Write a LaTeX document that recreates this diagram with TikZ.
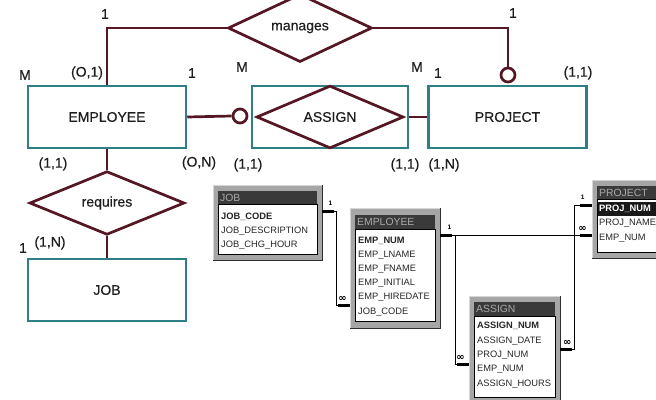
\documentclass[tikz,border=0pt]{standalone}
\usepackage{fontspec}
\setmainfont{Liberation Sans}
\newfontfamily\djv{DejaVu Sans}
\newfontfamily\erfam[FakeBold=0.4]{Liberation Sans}
\usetikzlibrary{shapes.geometric,calc}
\definecolor{entteal}{HTML}{2F7F87}
\definecolor{relmaroon}{HTML}{561725}
\definecolor{ertext}{HTML}{1E1E1E}
\definecolor{frgray}{HTML}{A6A6A6}
\definecolor{frlight}{HTML}{D6D6D6}
\definecolor{frdark}{HTML}{2E2E2E}
\definecolor{titlebg}{HTML}{3A3A3A}
\definecolor{titlefg}{HTML}{A9A9A9}
\newcommand\erfont{\erfam\fontsize{14}{14}\selectfont}
\newcommand\fieldfont{\fontsize{9.3}{10}\selectfont}
\newcommand\ttlfont{\fontsize{10.4}{11}\selectfont}
\newcommand\relfont{\fontsize{6.5}{7}\selectfont\bfseries}
\newcommand\inffont{\djv\fontsize{10}{10}\selectfont\bfseries}
\tikzset{
  entity/.style={draw=entteal, line width=2.5pt, minimum width=158pt, minimum height=62pt, inner sep=0pt, font=\erfont, text=ertext},
  reln/.style={diamond, draw=relmaroon, line width=2.7pt, inner sep=0pt, font=\erfont, text=ertext},
  conn/.style={draw=relmaroon, line width=2.7pt},
  optc/.style={circle, draw=relmaroon, line width=2.7pt, minimum size=14pt, inner sep=0pt},
  card/.style={font=\erfont, text=ertext, inner sep=0pt},
  tabframe/.style={fill=frgray, draw=frlight, line width=0.8pt, inner sep=0pt},
  tshadow/.style={draw=frdark, line width=1.3pt},
  ttitle/.style={fill=titlebg},
  tbody/.style={fill=white, draw=black, line width=0.8pt},
  ttitletext/.style={font=\ttlfont, text=titlefg, anchor=west, inner sep=0pt},
  tfield/.style={font=\fieldfont, text=black!85, anchor=west, inner sep=0pt},
  tkey/.style={tfield, font=\fieldfont\bfseries},
  tline/.style={draw=black, line width=0.8pt},
  tend/.style={draw=black, line width=2.6pt},
  tcard/.style={font=\relfont, text=black, inner sep=0pt},
  tinf/.style={font=\inffont, text=black, inner sep=0pt},
}
\begin{document}
\begin{tikzpicture}[x=1pt,y=-1pt]
\useasboundingbox (0,0) rectangle (656,399);
\clip (0,0) rectangle (656,399);
\fill[white] (0,0) rectangle (656,399);

% ---------------- ER diagram ----------------
\node[entity] (emp) at (107,117) {EMPLOYEE};
\node[entity] (proj) at (507.5,117) {PROJECT};
\node[entity, minimum width=156pt] (asgbox) at (330,117) {};
\node[reln, minimum width=147pt, minimum height=57pt] (asgd) at (330,117) {ASSIGN};
\node[entity] (job) at (107,290) {JOB};
\node[reln, minimum width=144pt, minimum height=56pt] (mng) at (300,28) {manages};
\node[reln, minimum width=155pt, minimum height=56pt] (req) at (107,203) {requires};
\node[optc] (o1) at (240,116) {};
\node[optc] (o2) at (508,75) {};

\draw[conn] (emp.north) |- (mng.west);
\draw[conn] (mng.east) -| (o2.north);
\draw[conn] (emp.east) -- (o1.west);
\draw[conn] (asgbox.east) -- (proj.west);
\draw[conn] (emp.south) -- (req.north);
\draw[conn] (req.south) -- (job.north);

\node[card] (l1) at (105,14) {1};
\node[card] (l2) at (513,13) {1};
\node[card] (l3) at (25,75) {M};
\node[card] (l4) at (87,73) {(O,1)};
\node[card] (l5) at (192,73) {1};
\node[card] (l6) at (242,67) {M};
\node[card] (l7) at (417,67) {M};
\node[card] (l8) at (438,73) {1};
\node[card] (l9) at (578,73) {(1,1)};
\node[card] (l10) at (53,164) {(1,1)};
\node[card] (l11) at (199,163) {(O,N)};
\node[card] (l12) at (248,165) {(1,1)};
\node[card] (l13) at (405,165) {(1,1)};
\node[card] (l14) at (444,165) {(1,N)};
\node[card] (l15) at (23,248) {1};
\node[card] (l16) at (50,243) {(1,N)};

% ---------------- relational tables ----------------
% JOB table
\node[tabframe, minimum width=109pt, minimum height=75pt] (tjob) at (267.5,222.5) {};
\draw[tshadow] (tjob.north east) -- (tjob.south east) -- (tjob.south west);
\fill[ttitle] (218,191) rectangle (317,204);
\draw[tbody] (218,204) rectangle (317,254);
\node[ttitletext] (tjobt) at (220,197.5) {JOB};
\node[tkey] (f11) at (221,217) {JOB\_CODE};
\node[tfield] (f12) at (221,231) {JOB\_DESCRIPTION};
\node[tfield] (f13) at (221,245) {JOB\_CHG\_HOUR};

% EMPLOYEE table
\node[tabframe, minimum width=90pt, minimum height=120pt] (temp) at (395,268) {};
\draw[tshadow] (temp.north east) -- (temp.south east) -- (temp.south west);
\fill[ttitle] (355,215) rectangle (435,229);
\draw[tbody] (355,229) rectangle (435,321);
\node[ttitletext] (tempt) at (357,222) {EMPLOYEE};
\node[tkey] (f21) at (358,241) {EMP\_NUM};
\node[tfield] (f22) at (358,255) {EMP\_LNAME};
\node[tfield] (f23) at (358,269) {EMP\_FNAME};
\node[tfield] (f24) at (358,283) {EMP\_INITIAL};
\node[tfield] (f25) at (358,297) {EMP\_HIREDATE};
\node[tfield] (f26) at (358,312) {JOB\_CODE};

% PROJECT table
\node[tabframe, minimum width=80pt, minimum height=78pt] (tproj) at (632,219) {};
\draw[tshadow] (tproj.north east) -- (tproj.south east) -- (tproj.south west);
\fill[ttitle] (597,186) rectangle (667,199);
\draw[tbody] (597,199) rectangle (667,252);
\fill[black!90] (598,201.5) rectangle (666,215.5);
\node[ttitletext] (tprojt) at (599,192.5) {PROJECT};
\node[tkey, text=white] (f31) at (599,208.5) {PROJ\_NUM};
\node[tfield] (f32) at (599,223) {PROJ\_NAME};
\node[tfield] (f33) at (599,238) {EMP\_NUM};

% ASSIGN table
\node[tabframe, minimum width=91pt, minimum height=108pt] (tasg) at (514.5,350) {};
\draw[tshadow] (tasg.north east) -- (tasg.south east) -- (tasg.south west);
\fill[ttitle] (474,302) rectangle (555,316);
\draw[tbody] (474,316) rectangle (555,397);
\node[ttitletext] (tasgt) at (476,309) {ASSIGN};
\node[tkey] (f41) at (477,326) {ASSIGN\_NUM};
\node[tfield] (f42) at (477,341) {ASSIGN\_DATE};
\node[tfield] (f43) at (477,355) {PROJ\_NUM};
\node[tfield] (f44) at (477,369) {EMP\_NUM};
\node[tfield] (f45) at (477,384) {ASSIGN\_HOURS};

% attachment points
\path (tjob.north east) ++(0,27) coordinate (jobR);
\path (temp.north west) ++(0,98) coordinate (empL);
\path (temp.north east) ++(0,28) coordinate (empR);
\path (tproj.north west) ++(0,26) coordinate (projA);
\path (tproj.north west) ++(0,56) coordinate (projB);
\path (tasg.north west) ++(0,69) coordinate (asgL);
\path (tasg.north east) ++(0,54) coordinate (asgR);

% relationship lines
\draw[tline] (jobR) -- ++(14,0) |- (empL);
\draw[tline] (empR) -- (projB);
\draw[tline] (empR) -- ++(15,0) |- (asgL);
\draw[tline] (projA) -- ++(-17,0) |- (asgR);

\draw[tend] (jobR) -- ++(12,0);
\draw[tend] (empL) -- ++(-12,0);
\draw[tend] (empR) -- ++(12,0);
\draw[tend] (projB) -- ++(-12,0);
\draw[tend] (asgL) -- ++(-12,0);
\draw[tend] (projA) -- ++(-12,0);
\draw[tend] (asgR) -- ++(12,0);

\node[tcard] (r1) at ($(jobR)+(8,-8)$) {1};
\node[tinf] (r2) at ($(empL)+(-7,-7)$) {∞};
\node[tcard] (r3) at ($(empR)+(9,-8)$) {1};
\node[tinf] (r4) at ($(projB)+(-9,-7)$) {∞};
\node[tinf] (r5) at ($(asgL)+(-8,-7)$) {∞};
\node[tcard] (r6) at ($(projA)+(-9,-8)$) {1};
\node[tinf] (r7) at ($(asgR)+(7,-7)$) {∞};
\end{tikzpicture}
\end{document}
